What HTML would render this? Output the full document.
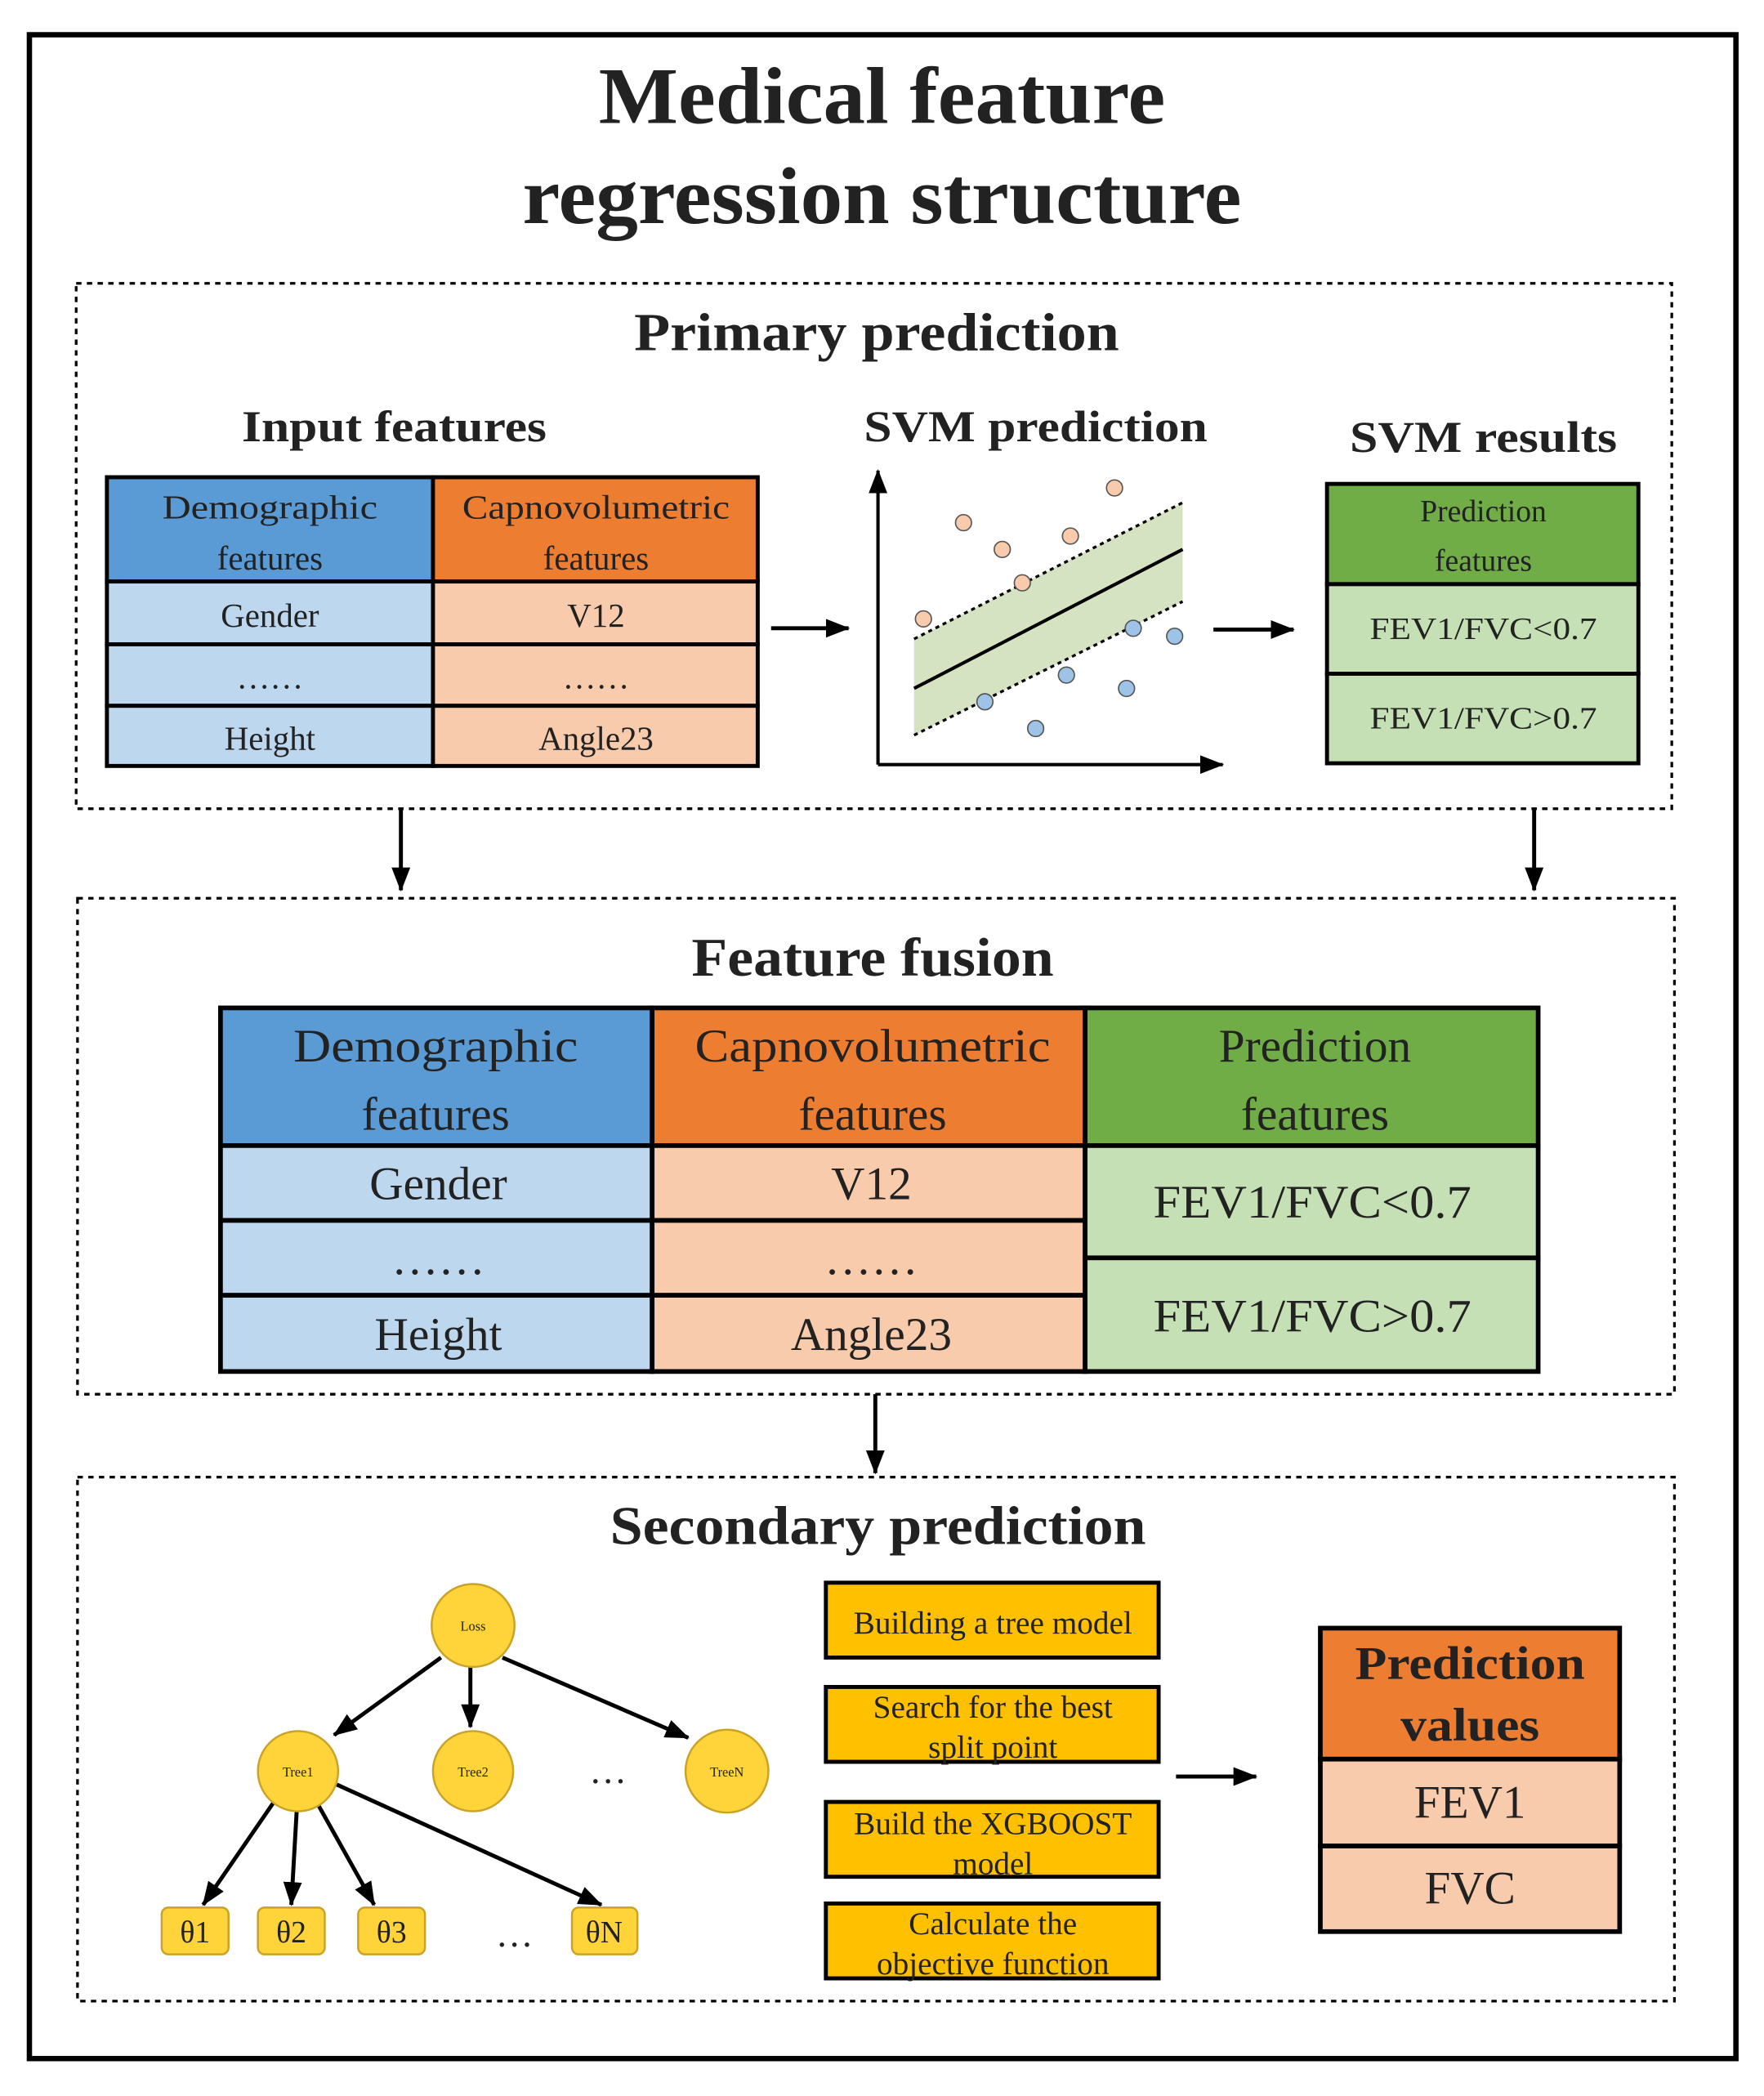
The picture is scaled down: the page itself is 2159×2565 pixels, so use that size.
<!DOCTYPE html>
<html><head><meta charset="utf-8"><style>
html,body{margin:0;padding:0;background:#fff;}
svg{display:block;}
text{font-family:"Liberation Serif",serif;fill:#222;}
.b{font-weight:bold;}
</style></head><body>
<svg width="2159" height="2565" viewBox="0 0 1320 1568" preserveAspectRatio="none" xmlns="http://www.w3.org/2000/svg">
<defs>
<marker id="ab" markerWidth="18" markerHeight="14" refX="17" refY="7" orient="auto" markerUnits="userSpaceOnUse"><path d="M0,0 L18,7 L0,14 z" fill="#000"/></marker>
</defs>
<rect width="1320" height="1568" fill="#fff"/>
<rect x="22" y="26" width="1277" height="1514" fill="none" stroke="#000" stroke-width="4"/>
<text x="660" y="92" font-size="60" text-anchor="middle" class="b" fill="#333" textLength="424" lengthAdjust="spacingAndGlyphs">Medical feature</text>
<text x="660" y="167" font-size="60" text-anchor="middle" class="b" fill="#333" textLength="538" lengthAdjust="spacingAndGlyphs">regression structure</text>

<!-- Box 1 -->
<rect x="57" y="212" width="1194" height="393" fill="none" stroke="#000" stroke-width="2" stroke-dasharray="4,4"/>
<text x="656" y="262" font-size="40" text-anchor="middle" class="b" fill="#333" textLength="363" lengthAdjust="spacingAndGlyphs">Primary prediction</text>
<text x="295" y="330" font-size="33" text-anchor="middle" class="b" fill="#333" textLength="228" lengthAdjust="spacingAndGlyphs">Input features</text>
<g stroke="#000" stroke-width="3">
<rect x="80" y="357" width="244" height="78" fill="#5B9BD5"/>
<rect x="324" y="357" width="243" height="78" fill="#ED7D31"/>
<rect x="80" y="435" width="244" height="47" fill="#BDD7EE"/>
<rect x="80" y="482" width="244" height="46" fill="#BDD7EE"/>
<rect x="80" y="528" width="244" height="45" fill="#BDD7EE"/>
<rect x="324" y="435" width="243" height="47" fill="#F8CBAD"/>
<rect x="324" y="482" width="243" height="46" fill="#F8CBAD"/>
<rect x="324" y="528" width="243" height="45" fill="#F8CBAD"/>
</g>
<g font-size="25" text-anchor="middle">
<text x="202" y="388" textLength="161" lengthAdjust="spacingAndGlyphs">Demographic</text><text x="202" y="426">features</text>
<text x="446" y="388" textLength="200" lengthAdjust="spacingAndGlyphs">Capnovolumetric</text><text x="446" y="426">features</text>
<text x="202" y="469">Gender</text><text x="202" y="515">……</text><text x="202" y="561">Height</text>
<text x="446" y="469">V12</text><text x="446" y="515">……</text><text x="446" y="561">Angle23</text>
</g>
<line x1="577" y1="470" x2="635" y2="470" stroke="#000" stroke-width="3" marker-end="url(#ab)"/>

<text x="775" y="330" font-size="33" text-anchor="middle" class="b" fill="#333" textLength="257" lengthAdjust="spacingAndGlyphs">SVM prediction</text>
<polygon points="684,478 885,376 885,450 684,550" fill="#D6E3C2"/>
<line x1="684" y1="478" x2="885" y2="376" stroke="#000" stroke-width="2" stroke-dasharray="3,3"/>
<line x1="684" y1="550" x2="885" y2="450" stroke="#000" stroke-width="2" stroke-dasharray="3,3"/>
<line x1="684" y1="515" x2="885" y2="411" stroke="#000" stroke-width="2.5"/>
<line x1="657" y1="572" x2="657" y2="352" stroke="#000" stroke-width="2.5" marker-end="url(#ab)"/>
<line x1="657" y1="572" x2="915" y2="572" stroke="#000" stroke-width="2.5" marker-end="url(#ab)"/>
<g fill="#F8CBAD" stroke="#555" stroke-width="1">
<circle cx="691" cy="463" r="6"/><circle cx="721" cy="391" r="6"/><circle cx="750" cy="411" r="6"/><circle cx="765" cy="436" r="6"/><circle cx="801" cy="401" r="6"/><circle cx="834" cy="365" r="6"/>
</g>
<g fill="#9DC3E6" stroke="#555" stroke-width="1">
<circle cx="737" cy="525" r="6"/><circle cx="775" cy="545" r="6"/><circle cx="798" cy="505" r="6"/><circle cx="843" cy="515" r="6"/><circle cx="848" cy="470" r="6"/><circle cx="879" cy="476" r="6"/>
</g>
<line x1="908" y1="471" x2="968" y2="471" stroke="#000" stroke-width="3" marker-end="url(#ab)"/>

<text x="1110" y="338" font-size="33" text-anchor="middle" class="b" fill="#333" textLength="200" lengthAdjust="spacingAndGlyphs">SVM results</text>
<g stroke="#000" stroke-width="3">
<rect x="993" y="362" width="233" height="75" fill="#70AD47"/>
<rect x="993" y="437" width="233" height="67" fill="#C5E0B4"/>
<rect x="993" y="504" width="233" height="67" fill="#C5E0B4"/>
</g>
<g font-size="23" text-anchor="middle">
<text x="1110" y="390">Prediction</text><text x="1110" y="427">features</text>
<text x="1110" y="478" textLength="170" lengthAdjust="spacingAndGlyphs">FEV1/FVC&lt;0.7</text><text x="1110" y="545" textLength="170" lengthAdjust="spacingAndGlyphs">FEV1/FVC&gt;0.7</text>
</g>

<line x1="300" y1="605" x2="300" y2="666" stroke="#000" stroke-width="3" marker-end="url(#ab)"/>
<line x1="1148" y1="605" x2="1148" y2="666" stroke="#000" stroke-width="3" marker-end="url(#ab)"/>

<!-- Box 2 -->
<rect x="58" y="672" width="1195" height="371" fill="none" stroke="#000" stroke-width="2" stroke-dasharray="4,4"/>
<text x="653" y="730" font-size="41" text-anchor="middle" class="b" fill="#333" textLength="271" lengthAdjust="spacingAndGlyphs">Feature fusion</text>
<g stroke="#000" stroke-width="3.5">
<rect x="165" y="754" width="323" height="103" fill="#5B9BD5"/>
<rect x="488" y="754" width="324" height="103" fill="#ED7D31"/>
<rect x="812" y="754" width="339" height="103" fill="#70AD47"/>
<rect x="165" y="857" width="323" height="56" fill="#BDD7EE"/>
<rect x="165" y="913" width="323" height="56" fill="#BDD7EE"/>
<rect x="165" y="969" width="323" height="57" fill="#BDD7EE"/>
<rect x="488" y="857" width="324" height="56" fill="#F8CBAD"/>
<rect x="488" y="913" width="324" height="56" fill="#F8CBAD"/>
<rect x="488" y="969" width="324" height="57" fill="#F8CBAD"/>
<rect x="812" y="857" width="339" height="84" fill="#C5E0B4"/>
<rect x="812" y="941" width="339" height="85" fill="#C5E0B4"/>
</g>
<g font-size="35" text-anchor="middle">
<text x="326" y="794" textLength="213" lengthAdjust="spacingAndGlyphs">Demographic</text><text x="326" y="845">features</text>
<text x="653" y="794" textLength="266" lengthAdjust="spacingAndGlyphs">Capnovolumetric</text><text x="653" y="845">features</text>
<text x="984" y="794">Prediction</text><text x="984" y="845">features</text>
<text x="328" y="897">Gender</text><text x="328" y="953">……</text><text x="328" y="1010">Height</text>
<text x="652" y="897">V12</text><text x="652" y="953">……</text><text x="652" y="1010">Angle23</text>
<text x="982" y="911" textLength="238" lengthAdjust="spacingAndGlyphs">FEV1/FVC&lt;0.7</text><text x="982" y="996" textLength="238" lengthAdjust="spacingAndGlyphs">FEV1/FVC&gt;0.7</text>
</g>
<line x1="655" y1="1043" x2="655" y2="1102" stroke="#000" stroke-width="3" marker-end="url(#ab)"/>

<!-- Box 3 -->
<rect x="58" y="1105" width="1195" height="392" fill="none" stroke="#000" stroke-width="2" stroke-dasharray="4,4"/>
<text x="657" y="1155" font-size="41" text-anchor="middle" class="b" fill="#333" textLength="401" lengthAdjust="spacingAndGlyphs">Secondary prediction</text>
<g stroke="#000" stroke-width="3">
<line x1="330" y1="1240" x2="250" y2="1298" marker-end="url(#ab)"/>
<line x1="352" y1="1247" x2="352" y2="1292" marker-end="url(#ab)"/>
<line x1="376" y1="1240" x2="515" y2="1300" marker-end="url(#ab)"/>
<line x1="205" y1="1348" x2="152" y2="1425" marker-end="url(#ab)"/>
<line x1="222" y1="1355" x2="218" y2="1425" marker-end="url(#ab)"/>
<line x1="238" y1="1350" x2="280" y2="1425" marker-end="url(#ab)"/>
<line x1="252" y1="1335" x2="450" y2="1425" marker-end="url(#ab)"/>
</g>
<g fill="#FFD43B" stroke="#C9A227" stroke-width="1.5">
<circle cx="354" cy="1216" r="31"/><circle cx="223" cy="1325" r="30"/><circle cx="354" cy="1325" r="30"/><circle cx="544" cy="1325" r="31"/>
<rect x="121" y="1427" width="50" height="35" rx="5"/><rect x="193" y="1427" width="50" height="35" rx="5"/><rect x="268" y="1427" width="50" height="35" rx="5"/><rect x="428" y="1427" width="49" height="35" rx="5"/>
</g>
<g font-size="10" text-anchor="middle">
<text x="354" y="1220">Loss</text><text x="223" y="1329">Tree1</text><text x="354" y="1329">Tree2</text><text x="544" y="1329">TreeN</text>
</g>
<g font-size="23" text-anchor="middle">
<text x="146" y="1453">θ1</text><text x="218" y="1453">θ2</text><text x="293" y="1453">θ3</text><text x="452" y="1453">θN</text>
<text x="455" y="1334" font-size="28">…</text><text x="385" y="1456" font-size="28">…</text>
</g>
<g fill="#FFC000" stroke="#000" stroke-width="3">
<rect x="618" y="1184" width="249" height="56"/><rect x="618" y="1262" width="249" height="56"/><rect x="618" y="1348" width="249" height="56"/><rect x="618" y="1424" width="249" height="56"/>
</g>
<g font-size="24" text-anchor="middle">
<text x="743" y="1222">Building a tree model</text>
<text x="743" y="1285">Search for the best</text><text x="743" y="1315">split point</text>
<text x="743" y="1372">Build the XGBOOST</text><text x="743" y="1402">model</text>
<text x="743" y="1447">Calculate the</text><text x="743" y="1477">objective function</text>
</g>
<line x1="880" y1="1329" x2="940" y2="1329" stroke="#000" stroke-width="3" marker-end="url(#ab)"/>
<g stroke="#000" stroke-width="3.5">
<rect x="988" y="1218" width="224" height="98" fill="#ED7D31"/>
<rect x="988" y="1316" width="224" height="65" fill="#F8CBAD"/>
<rect x="988" y="1381" width="224" height="64" fill="#F8CBAD"/>
</g>
<g font-size="35" text-anchor="middle">
<text x="1100" y="1256" class="b" textLength="172" lengthAdjust="spacingAndGlyphs">Prediction</text><text x="1100" y="1302" class="b" textLength="104" lengthAdjust="spacingAndGlyphs">values</text>
<text x="1100" y="1360">FEV1</text><text x="1100" y="1424">FVC</text>
</g>
</svg>
</body></html>
